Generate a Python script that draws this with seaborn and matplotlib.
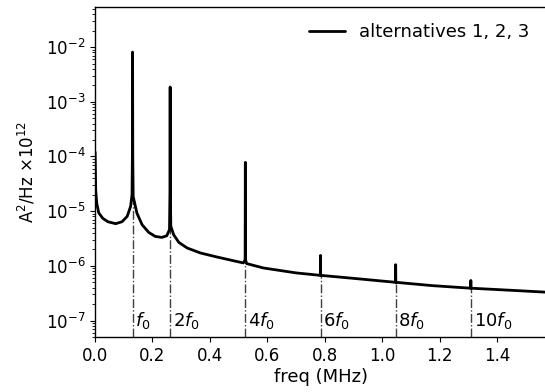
import matplotlib
matplotlib.use("Agg")
import matplotlib.pyplot as plt
import seaborn as sns

# spectrum (freq in MHz, PSD in A^2/Hz x 1e12)
freq = [0.0005, 0.0015, 0.0025, 0.006, 0.013, 0.027, 0.045, 0.072, 0.094, 0.112,
        0.124, 0.1290, 0.1302, 0.1309, 0.1316, 0.1330, 0.146, 0.164, 0.187,
        0.210, 0.233, 0.250, 0.2595, 0.2611, 0.2618, 0.2625, 0.264, 0.274,
        0.292, 0.321, 0.367, 0.425, 0.482, 0.517, 0.5229, 0.5236, 0.5243,
        0.528, 0.586, 0.701, 0.7848, 0.7854, 0.7860, 0.886, 1.0466, 1.0472,
        1.0478, 1.174, 1.3084, 1.3090, 1.3096, 1.45, 1.5708]
psd = [1.2e-4, 5.0e-5, 2.4e-5, 1.4e-5, 9.3e-6, 7.4e-6, 6.4e-6, 5.9e-6, 6.4e-6, 8.0e-6,
       1.22e-5, 2.0e-5, 1.0e-4, 8.1e-3, 1.0e-4, 1.85e-5, 9.2e-6, 5.65e-6, 4.09e-6,
       3.45e-6, 3.31e-6, 3.55e-6, 4.6e-6, 2.5e-5, 1.86e-3, 2.5e-5, 5.3e-6, 3.7e-6,
       2.68e-6, 2.12e-6, 1.72e-6, 1.45e-6, 1.24e-6, 1.13e-6, 1.3e-6, 7.8e-5, 1.3e-6,
       1.10e-6, 9.15e-7, 7.42e-7, 6.7e-7, 1.55e-6, 6.7e-7, 6.0e-7, 5.0e-7, 1.05e-6,
       5.0e-7, 4.35e-7, 3.9e-7, 5.4e-7, 3.9e-7, 3.57e-7, 3.3e-7]

# harmonic markers
f0 = 0.1309
harmonics = [1, 2, 4, 6, 8, 10]
harm_labels = ["$f_0$", "$2f_0$", "$4f_0$", "$6f_0$", "$8f_0$", "$10f_0$"]
harm_top = [1.6e-5, 5.0e-6, 1.13e-6, 6.7e-7, 5.0e-7, 3.9e-7]

sns.set_style("ticks")
plt.rcParams.update({
    "font.family": ["DejaVu Sans"],
    "font.size": 12,
    "axes.edgecolor": "black",
    "axes.linewidth": 1.0,
    "xtick.color": "black",
    "ytick.color": "black",
    "text.color": "black",
    "axes.labelcolor": "black",
})

fig = plt.figure(figsize=(5.45, 3.92), dpi=100)
ax = fig.add_axes([95 / 545, 1 - 337 / 392, 451 / 545, 330 / 392])

sns.lineplot(x=freq, y=psd, ax=ax, color="black", linewidth=2,
             label="alternatives 1, 2, 3", sort=False, estimator=None)

ylo = 5e-8
hx = [h * f0 for h in harmonics]
ax.vlines(hx, ylo, harm_top, colors="0.25", linestyles="-.", linewidth=1, zorder=1)
for x, lab in zip(hx, harm_labels):
    ax.annotate(lab, (x, 1e-7), xytext=(2, 0), textcoords="offset points",
                va="center", ha="left", fontsize=13)

ax.set_yscale("log")
ax.set_xlim(0, 12 * f0)
ax.set_ylim(ylo, 5.4e-2)
ax.set_xticks([0.0, 0.2, 0.4, 0.6, 0.8, 1.0, 1.2, 1.4])
ax.set_xlabel("freq (MHz)", fontsize=13, labelpad=2)
ax.set_ylabel(r"A$^2$/Hz $\times10^{12}$", fontsize=12, labelpad=6)
ax.tick_params(labelsize=12)

ax.legend(loc="upper right", frameon=False, fontsize=13)

fig.savefig("out.png", dpi=100)
